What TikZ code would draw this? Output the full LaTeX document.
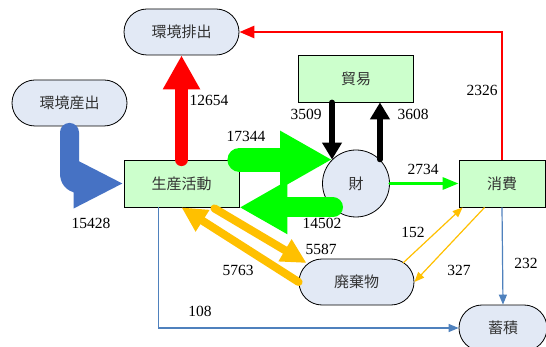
\documentclass[tikz,border=0pt]{standalone}
\usepackage{fontspec}
\setmainfont{Liberation Serif}
\newfontfamily\cjk{Noto Sans CJK JP}
\usetikzlibrary{arrows.meta,calc,shapes.misc}
\definecolor{termfill}{RGB}{226,233,245}
\definecolor{boxfill}{RGB}{204,255,204}
\definecolor{flowblue}{RGB}{70,114,196}
\definecolor{thinblue}{RGB}{79,129,189}
\definecolor{flowgold}{RGB}{255,192,0}
\definecolor{flowgreen}{RGB}{0,255,0}
\definecolor{flowred}{RGB}{255,0,0}
\newcommand\cjkfont{\cjk\fontsize{15}{18}\selectfont}
\newcommand\numfont{\fontsize{15.5}{18}\selectfont}
\tikzset{
  stadium/.style={rounded rectangle, draw=black, line width=0.8pt, fill=termfill,
    minimum width=115pt, minimum height=46pt, inner sep=0pt, font=\cjkfont, text=black!80},
  rectbox/.style={draw=black, line width=0.8pt, fill=boxfill,
    minimum width=115pt, minimum height=47pt, inner sep=0pt, font=\cjkfont, text=black!80},
  numlab/.style={font=\numfont, inner sep=0pt, text=black},
  flow/.style={line cap=round, line join=round},
}
\begin{document}
\begin{tikzpicture}[x=1pt,y=-1pt]
\useasboundingbox[fill=white] (0,0) rectangle (546,347);
% nodes
\node[stadium] (ee) at (181.5,32) {環境排出};
\node[stadium] (eo) at (69.5,103) {環境産出};
\node[rectbox] (prod) at (181.5,183.5) {生産活動};
\node[rectbox] (trade) at (356,78.5) {貿易};
\node[circle, draw=black, line width=0.8pt, fill=termfill, minimum size=67pt, inner sep=0pt, font=\cjkfont, text=black!80] (goods) at (356,183.5) {財};
\node[rectbox, minimum width=86pt] (cons) at (502,183.5) {消費};
\node[stadium] (waste) at (356.5,282) {廃棄物};
\node[stadium, minimum width=88pt] (acc) at (503,328) {蓄積};

% helper coordinates
\coordinate (gL) at ($(goods.center)+(-23,0)$);
\coordinate (eoS) at ($(eo.south)+(0,6)$);
\coordinate (p1) at ($(prod.south east)+(-25,1)$);
\coordinate (w1) at ($(waste.center)+(-50,-19)$);
\coordinate (w2) at ($(waste.center)+(46.5,-19)$);
\coordinate (c1) at ($(cons.south west)+(4,0)$);
\coordinate (c2) at ($(cons.south west)+(26,0)$);
\coordinate (p2) at ($(prod.south west)+(35,0)$);

% thin blue
\draw[thinblue, line width=1.2pt, -{Triangle[length=10pt,width=8pt]}] (p2) |- (acc.west);
\draw[thinblue, line width=1.2pt, -{Triangle[length=10pt,width=8pt]}] (cons.south) -- (acc.north);

% thick blue
\draw[flow, flowblue, line width=19pt, rounded corners=9pt, -{Triangle[length=50pt,width=46pt]}] (eoS) |- (prod.west);

% red
\draw[flow, flowred, line width=13pt, -{Triangle[length=34pt,width=35pt]}] (prod.north) -- (ee.south);
\draw[flowred, line width=2.7pt, -{Triangle[length=15pt,width=12pt]}] (cons.north) |- (ee.east);

% green
\draw[flow, flowgreen, line width=24pt, -{Triangle[length=52pt,width=54pt]}] (prod.north east) -- (goods.135 |- prod.north east);
\draw[flow, flowgreen, line width=20pt, -{Triangle[length=48pt,width=50pt]}] (gL |- prod.south east) -- (prod.south east);
\draw[flow, flowgreen, line width=3pt, -{Triangle[length=16pt,width=12pt]}] (goods.east) -- (cons.west);

% black
\draw[flow, black, line width=5.5pt, -{Triangle[length=17pt,width=19pt]}] (goods.135 |- trade.south) -- (goods.135);
\draw[flow, black, line width=5.5pt, -{Triangle[length=17pt,width=19pt]}] (goods.45) -- (goods.45 |- trade.south);

% gold
\draw[flow, flowgold, line width=8pt, -{Triangle[length=25pt,width=24pt]}] (p1) -- (w1);
\draw[flow, flowgold, line width=8pt, -{Triangle[length=25pt,width=24pt]}] (waste.west) -- (prod.south);
\draw[flowgold, line width=1.2pt, -{Triangle[length=10pt,width=8pt]}] (w2) -- (c1);
\draw[flowgold, line width=1.2pt, -{Triangle[length=10pt,width=8pt]}] (c2) -- (waste.east);

% labels
\node[numlab] (l12654) at (209,100) {12654};
\node[numlab] (l17344) at (246,136) {17344};
\node[numlab] (l15428) at (91,223) {15428};
\node[numlab] (l3509) at (306,114) {3509};
\node[numlab] (l3608) at (413,114) {3608};
\node[numlab] (l2326) at (482,90) {2326};
\node[numlab] (l2734) at (423,169) {2734};
\node[numlab] (l14502) at (322,223) {14502};
\node[numlab] (l5587) at (321,249) {5587};
\node[numlab] (l152) at (413,232) {152};
\node[numlab] (l327) at (459,270) {327};
\node[numlab] (l232) at (526,263) {232};
\node[numlab] (l5763) at (238,270) {5763};
\node[numlab] (l108) at (200,311) {108};
\end{tikzpicture}
\end{document}
